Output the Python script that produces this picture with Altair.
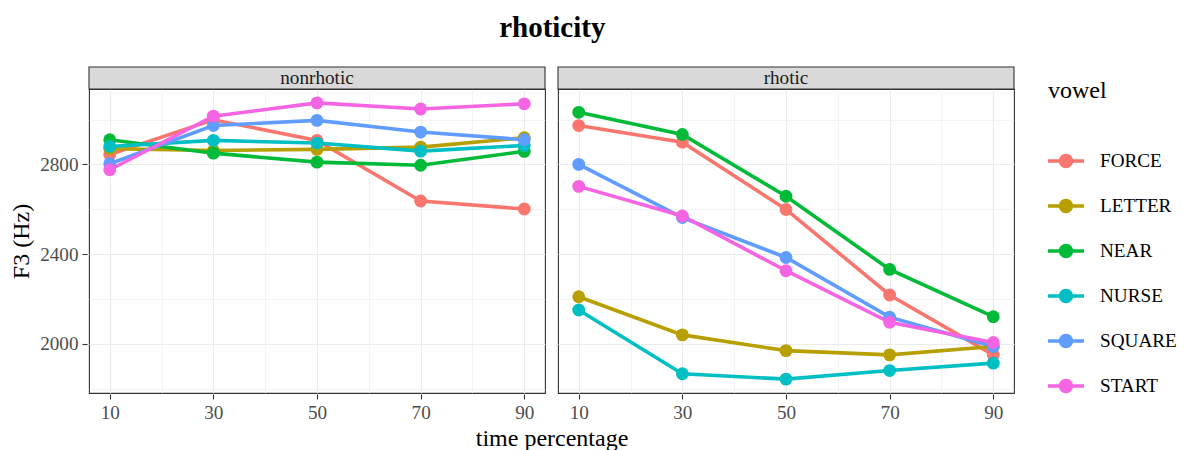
import altair as alt
import pandas as pd

times = [10, 30, 50, 70, 90]
vowels = ["FORCE", "LETTER", "NEAR", "NURSE", "SQUARE", "START"]
colors = ["#F8766D", "#B79F00", "#00BA38", "#00BFC4", "#619CFF", "#F564E3"]
panels = ["nonrhotic", "rhotic"]

nonrhotic_force = [2844, 2999, 2907, 2637, 2601]
nonrhotic_letter = [2870, 2862, 2867, 2877, 2919]
nonrhotic_near = [2910, 2850, 2810, 2796, 2858]
nonrhotic_nurse = [2880, 2907, 2895, 2859, 2884]
nonrhotic_square = [2803, 2973, 2996, 2944, 2910]
nonrhotic_start = [2776, 3015, 3074, 3047, 3070]

rhotic_force = [2973, 2899, 2599, 2218, 1951]
rhotic_letter = [2210, 2040, 1970, 1951, 1988]
rhotic_near = [3032, 2933, 2658, 2332, 2121]
rhotic_nurse = [2151, 1867, 1843, 1881, 1914]
rhotic_square = [2800, 2563, 2385, 2119, 1988]
rhotic_start = [2702, 2570, 2326, 2096, 2006]

series = {
    "nonrhotic": [nonrhotic_force, nonrhotic_letter, nonrhotic_near,
                  nonrhotic_nurse, nonrhotic_square, nonrhotic_start],
    "rhotic": [rhotic_force, rhotic_letter, rhotic_near,
               rhotic_nurse, rhotic_square, rhotic_start],
}

rows = []
for p in panels:
    for v, vals in zip(vowels, series[p]):
        for t, f in zip(times, vals):
            rows.append({"rhoticity": p, "vowel": v, "time": t, "F3": f})
df = pd.DataFrame(rows)

W, H = 456, 304
STRIP = 22
FONT = "Liberation Serif"

grid_cond_y = {"condition": {"test": "datum.value % 400 == 0", "value": 1.1}, "value": 0.55}
tick_cond_y = {"condition": {"test": "datum.value % 400 == 0", "value": "#333333"}, "value": "rgba(0,0,0,0)"}
grid_cond_x = {"condition": {"test": "(datum.value - 10) % 20 == 0", "value": 1.1}, "value": 0.55}
tick_cond_x = {"condition": {"test": "(datum.value - 10) % 20 == 0", "value": "#333333"}, "value": "rgba(0,0,0,0)"}

x_enc = alt.X(
    "time:Q",
    scale=alt.Scale(domain=[6, 94], nice=False, zero=False),
    axis=alt.Axis(
        values=[10, 20, 30, 40, 50, 60, 70, 80, 90],
        labelExpr="(datum.value - 10) % 20 == 0 ? datum.label : ''",
        gridWidth=grid_cond_x,
        tickColor=tick_cond_x,
        title=None,
    ),
)
y_enc = alt.Y(
    "F3:Q",
    scale=alt.Scale(domain=[1781, 3136], nice=False, zero=False),
    axis=alt.Axis(
        values=[1800, 2000, 2200, 2400, 2600, 2800, 3000],
        format="d",
        labelExpr="datum.value % 400 == 0 ? datum.label : ''",
        gridWidth=grid_cond_y,
        tickColor=tick_cond_y,
        title="F3 (Hz)",
    ),
)
color_scale = alt.Scale(domain=vowels, range=colors)

SYMBOL = ("M -1 -0.1 L -0.3 -0.1 L -0.3 0.1 L -1 0.1 Z "
          "M 0.3 -0.1 L 1 -0.1 L 1 0.1 L 0.3 0.1 Z "
          "M 0.4 0 A 0.4 0.4 0 1 1 -0.4 0 A 0.4 0.4 0 1 1 0.4 0 Z")

legend = alt.Legend(
    title="vowel", symbolType=SYMBOL, symbolSize=1296,
    symbolStrokeWidth=0, symbolOpacity=1, rowPadding=16, titlePadding=40,
    labelOffset=16, padding=0, orient="none", legendX=959, legendY=-10,
)

base = alt.Chart()
first = (alt.datum.time == 10) & (alt.datum.vowel == "FORCE")

strip_rect = base.transform_filter(first).mark_rect(
    fill="#D9D9D9", stroke="#333333", strokeWidth=1.1
).encode(x=alt.value(0), x2=alt.value(W), y=alt.value(-STRIP), y2=alt.value(0))

strip_text = base.transform_filter(first).mark_text(
    font=FONT, fontSize=19.2, color="#1A1A1A"
).encode(text="rhoticity:N", x=alt.value(W / 2), y=alt.value(-STRIP / 2))

lines = base.mark_line(strokeWidth=3.6).encode(
    x=x_enc, y=y_enc,
    color=alt.Color("vowel:N", scale=color_scale, legend=legend),
    detail="vowel:N",
)
points = base.mark_point(filled=True, size=165, opacity=1).encode(
    x=x_enc, y=y_enc,
    color=alt.Color("vowel:N", scale=color_scale, legend=legend),
)

chart = alt.layer(lines, points, strip_rect, strip_text, data=df).properties(
    width=W, height=H
).facet(
    column=alt.Column(
        "rhoticity:N",
        header=alt.Header(labels=False, title="time percentage", titleOrient="bottom",
                          titleFont=FONT, titleFontSize=24, titleColor="#000000",
                          titleFontWeight="normal", titlePadding=-6, labelPadding=0),
    ),
    spacing=9,
).properties(
    title=alt.Title("rhoticity", font=FONT, fontSize=29, fontWeight="bold",
                    color="#000000", anchor="middle", offset=23, dx=-41),
    padding={"left": 9, "top": 13, "right": 5, "bottom": 0},
).configure(
    font=FONT,
).configure_view(
    stroke="#333333", strokeWidth=1.1, fill="white"
).configure_axis(
    labelFont=FONT, labelFontSize=19.2, labelColor="#4D4D4D",
    titleFont=FONT, titleFontSize=24, titleColor="#000000", titleFontWeight="normal",
    gridColor="#EBEBEB", domain=False, tickSize=5, tickWidth=1.1,
    labelPadding=4,
).configure_axisY(
    titlePadding=6,
).configure_legend(
    labelFont=FONT, labelFontSize=19.2, labelColor="#000000",
    titleFont=FONT, titleFontSize=24, titleFontWeight="normal", titleColor="#000000",
)

chart.save("out.html", embed_options={"renderer": "svg", "actions": False})
